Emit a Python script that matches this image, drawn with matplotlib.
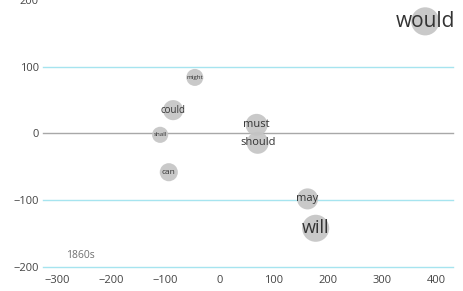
import matplotlib
matplotlib.use('Agg')
import matplotlib.pyplot as plt

# modal verbs, positions and label sizes
words = ['would', 'might', 'could', 'shall', 'must', 'should', 'can', 'may', 'will']
xs = [379, -46, -86, -110, 68, 70, -94, 162, 177]
ys = [168, 84, 35, -2, 13, -14, -58, -98, -142]
sizes = [410, 150, 210, 135, 250, 250, 170, 230, 380]
font_sizes = [15, 4.5, 7, 4.5, 8, 8, 6, 8, 13]

decade = '1860s'
yticks = [-200, -100, 0, 100, 200]
grid_lines = [-200, -100, 0, 100]
xticks = [-300, -200, -100, 0, 100, 200, 300, 400]

plt.rcParams['font.family'] = ['Open Sans', 'DejaVu Sans']

fig = plt.figure(figsize=(4.63, 2.91), dpi=100)
ax = fig.add_axes([0.093, 0.0825, 0.885, 0.9175])

# horizontal grid lines, the zero line in grey
for y in grid_lines:
    color = '#a8a8a8' if y == 0 else '#a6e4ef'
    ax.axhline(y, color=color, lw=1, zorder=0, clip_on=False)

ax.scatter(xs, ys, s=sizes, color='#c4c4c4', alpha=0.9, edgecolors='none', zorder=2)
for w, x, y, fs in zip(words, xs, ys, font_sizes):
    ax.text(x, y, w, ha='center', va='center', fontsize=fs, color='#333333', zorder=3)

ax.text(-258, -183, decade, ha='center', va='center', fontsize=7.5, color='#707070')

ax.set_xlim(-326, 430)
ax.set_ylim(-200, 200)
ax.set_xticks(xticks)
ax.set_yticks(yticks)
ax.tick_params(length=0, labelsize=8, colors='#444444')
ax.tick_params(axis='x', pad=6)
ax.tick_params(axis='y', pad=3)
for s in ax.spines.values():
    s.set_visible(False)

fig.savefig('out.png', dpi=100)
